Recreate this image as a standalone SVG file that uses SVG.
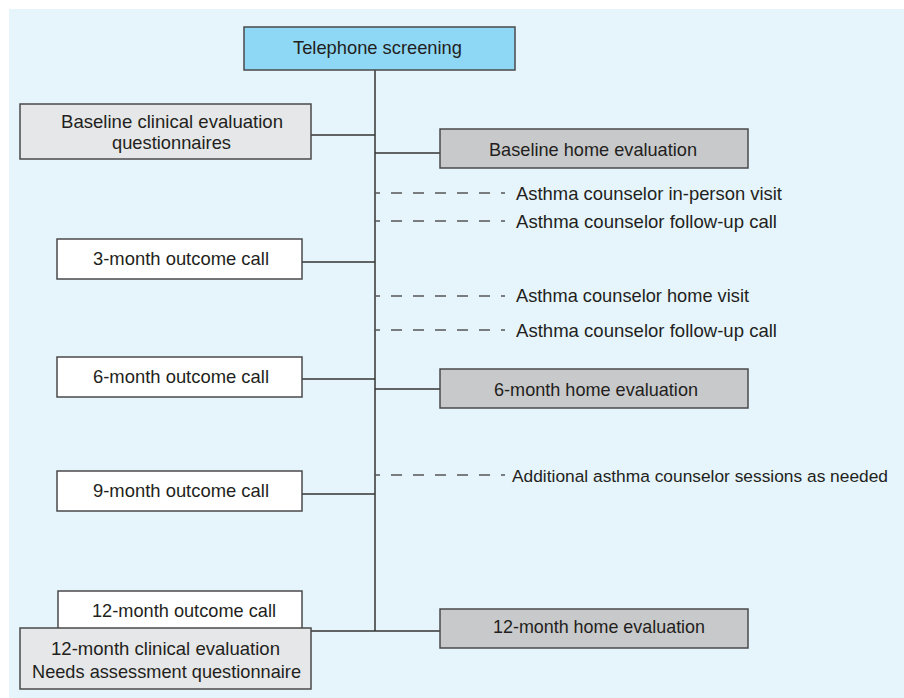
<svg xmlns="http://www.w3.org/2000/svg" width="904" height="698" viewBox="0 0 904 698">
<style>
.bx{stroke:#4a4a4a;stroke-width:1.5}
.w{fill:#ffffff}
.lg{fill:#e6e7e8}
.dg{fill:#c8c9cb}
.bl{fill:#8ed8f6}
text{font-family:"Liberation Sans",Arial,sans-serif;font-size:19px;fill:#231f20;text-anchor:start}
.c{stroke:#333;stroke-width:1.5;fill:none}
.d{stroke:#555;stroke-width:1.5;fill:none;stroke-dasharray:5 11 11 11 11 11 11 11 11 11 11 11 4}
</style>
<rect x="9" y="9" width="895" height="689" fill="#e6f5fc"/>
<g id="connectors">
<line class="c" x1="375" y1="70" x2="375" y2="631"/>
<line class="c" x1="311" y1="135" x2="375" y2="135"/>
<line class="c" x1="375" y1="153" x2="440" y2="153"/>
<line class="c" x1="302" y1="262" x2="375" y2="262"/>
<line class="c" x1="302" y1="379" x2="375" y2="379"/>
<line class="c" x1="375" y1="389" x2="440" y2="389"/>
<line class="c" x1="302" y1="494" x2="375" y2="494"/>
<line class="c" x1="311" y1="631" x2="440" y2="631"/>
<line class="d" x1="375" y1="193" x2="505" y2="193"/>
<line class="d" x1="375" y1="221" x2="505" y2="221"/>
<line class="d" x1="375" y1="296" x2="505" y2="296"/>
<line class="d" x1="375" y1="330" x2="505" y2="330"/>
<line class="d" x1="375" y1="475" x2="505" y2="475"/>
</g>
<g id="telephone">
<rect class="bx bl" x="244" y="27" width="271" height="43"/>
<text x="293" y="54" textLength="169" lengthAdjust="spacingAndGlyphs">Telephone screening</text>
</g>
<g id="baseline-clinical">
<rect class="bx lg" x="20" y="104" width="291" height="55"/>
<text x="61" y="128" textLength="222" lengthAdjust="spacingAndGlyphs">Baseline clinical evaluation</text>
<text x="112" y="149" textLength="119" lengthAdjust="spacingAndGlyphs">questionnaires</text>
</g>
<g id="baseline-home">
<rect class="bx dg" x="440" y="129" width="308" height="39"/>
<text x="489" y="156" textLength="208" lengthAdjust="spacingAndGlyphs">Baseline home evaluation</text>
</g>
<g id="s1"><text x="516" y="200" textLength="266" lengthAdjust="spacingAndGlyphs">Asthma counselor in-person visit</text></g>
<g id="s2"><text x="516" y="228" textLength="261" lengthAdjust="spacingAndGlyphs">Asthma counselor follow-up call</text></g>
<g id="s3"><text x="516" y="302" textLength="233" lengthAdjust="spacingAndGlyphs">Asthma counselor home visit</text></g>
<g id="s4"><text x="516" y="337" textLength="261" lengthAdjust="spacingAndGlyphs">Asthma counselor follow-up call</text></g>
<g id="s5"><text x="512" y="482" style="font-size:17.4px" textLength="376" lengthAdjust="spacingAndGlyphs">Additional asthma counselor sessions as needed</text></g>
<g id="m3">
<rect class="bx w" x="57" y="239" width="245" height="40"/>
<text x="93" y="265" textLength="176" lengthAdjust="spacingAndGlyphs">3-month outcome call</text>
</g>
<g id="m6">
<rect class="bx w" x="57" y="357" width="245" height="40"/>
<text x="93" y="383" textLength="176" lengthAdjust="spacingAndGlyphs">6-month outcome call</text>
</g>
<g id="h6">
<rect class="bx dg" x="440" y="369" width="308" height="39"/>
<text x="494" y="396" textLength="204" lengthAdjust="spacingAndGlyphs">6-month home evaluation</text>
</g>
<g id="m9">
<rect class="bx w" x="57" y="471" width="245" height="40"/>
<text x="93" y="497" textLength="176" lengthAdjust="spacingAndGlyphs">9-month outcome call</text>
</g>
<g id="m12">
<rect class="bx w" x="58" y="591" width="244" height="38"/>
<text x="92" y="617" textLength="184" lengthAdjust="spacingAndGlyphs">12-month outcome call</text>
</g>
<g id="c12">
<rect class="bx lg" x="20" y="628" width="291" height="61"/>
<text x="51" y="655" textLength="229" lengthAdjust="spacingAndGlyphs">12-month clinical evaluation</text>
<text x="32" y="678" textLength="269" lengthAdjust="spacingAndGlyphs">Needs assessment questionnaire</text>
</g>
<g id="h12">
<rect class="bx dg" x="440" y="609" width="308" height="39"/>
<text x="493" y="633" textLength="212" lengthAdjust="spacingAndGlyphs">12-month home evaluation</text>
</g>
</svg>
